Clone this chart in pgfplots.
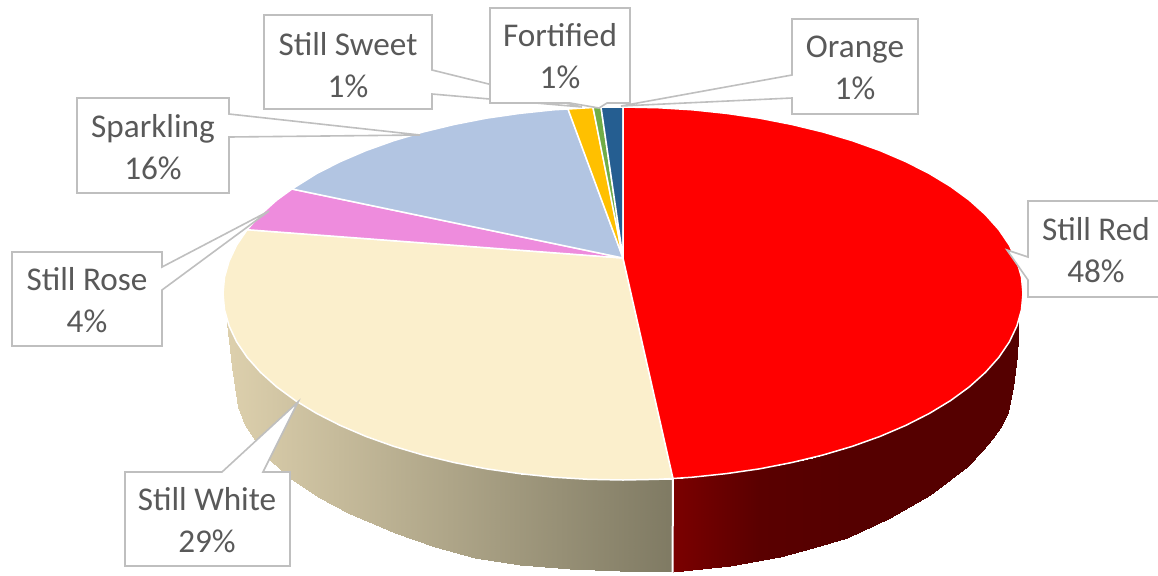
\documentclass[border=0pt]{standalone}
\usepackage{fontspec}
\setmainfont{Carlito}
\usepackage{pgfplots}
\pgfplotsset{compat=1.18}
\definecolor{lbl}{HTML}{595959}
\definecolor{lnc}{HTML}{BFBFBF}
\definecolor{cStillRed}{HTML}{FF0000}
\definecolor{cStillWhite}{HTML}{FBEFCC}
\definecolor{cRose}{HTML}{EE8CDD}
\definecolor{cSpark}{HTML}{B2C5E2}
\definecolor{cSweet}{HTML}{FFC000}
\definecolor{cFort}{HTML}{70AD47}
\definecolor{cOrange}{HTML}{255E91}
\pgfplotsset{
  colormap={sidewhite}{rgb255=(221,208,173) rgb255=(127,122,99)},
  colormap={sidered}{rgb255=(123,0,0) rgb255=(90,0,0) rgb255=(85,0,0) rgb255=(85,0,0) rgb255=(85,0,0)},
  slice/.style={draw=white,line width=0.75pt,line join=round},
  box/.style={fill=white,draw=lnc,line width=0.8pt,line join=miter},
}
\begin{document}
\begin{tikzpicture}
\begin{axis}[
  at={(0pt,0pt)},anchor=south west,
  scale only axis, width=579pt, height=287.5pt,
  xmin=0,xmax=1158,ymin=0,ymax=575,y dir=reverse,
  hide axis, no marks, point meta min=0, point meta max=1,
  nodes={font=\fontsize{16.6}{21}\selectfont,text=lbl,align=center,inner sep=0pt},
]
% sides
\addplot[surf,shader=interp,colormap name=sidered,mesh/rows=15,mesh/cols=2,point meta=explicit]
 table[x=x,y=y,meta=m]{
x y m
673 478.5 0
673 572 0
730 473.2 0.165
730 566 0.165
780 465 0.31
780 557 0.31
813 457.6 0.405
813 548 0.405
847 448 0.50
847 538 0.50
890 432.4 0.62
890 518 0.62
930 413 0.74
930 495 0.74
967 388.7 0.85
967 467 0.85
982 374 0.89
982 451 0.89
993 364.4 0.92
993 438 0.92
1002 352 0.95
1002 425 0.95
1008 344 0.96
1008 412 0.96
1013 335 0.98
1013 387 0.98
1017 325.7 0.99
1017 355 0.99
1019 320 1
1019 321 1
};
\addplot[surf,shader=interp,colormap name=sidewhite,mesh/rows=16,mesh/cols=2,point meta=explicit]
 table[x=x,y=y,meta=m]{
x y m
227 320 0
227 323 0
232 332.9 0.011
232 367 0.011
238 344 0.025
238 407 0.025
245 355 0.04
245 425 0.04
255 366.6 0.063
255 440 0.063
270 381.2 0.096
270 460 0.096
290 396.8 0.141
290 478 0.141
318 414 0.204
318 497 0.204
348 429 0.271
348 513 0.271
395 446.7 0.377
395 533 0.377
435 458 0.466
435 547 0.466
475 466.8 0.556
475 558 0.556
520 473.7 0.657
520 565 0.657
570 478.3 0.769
570 569 0.769
620 480 0.881
620 571 0.881
673 478.7 1
673 572 1
};
\addplot[draw=white,line width=1pt] coordinates {(673,478) (672.5,573)};
% top: slices
\addplot[slice,fill=cStillWhite] coordinates {
(623,258)(673,478.5)(657.9,479.3)(623,480)(588.1,479.3)(553.6,477.2)(519.5,473.6)(486.2,468.8)(454,462.5)(423,455)(393.6,446.3)(365.9,436.4)(340.2,425.4)(316.6,413.4)(295.3,400.5)(276.6,386.8)(260.5,372.3)(247.1,357.3)(236.6,341.8)(229.1,325.9)(224.5,309.8)(223,293.5)(224.5,277.2)(229.1,261.1)(236.6,245.2)(247.1,229.7)
} --cycle;
\addplot[slice,fill=cRose] coordinates {
(623,258)(247.1,229.7)(260.5,214.7)(276.6,200.2)(292,189)
} --cycle;
\addplot[slice,fill=cSpark] coordinates {
(623,258)(292,189)(316.6,173.6)(340.2,161.6)(365.9,150.6)(393.6,140.7)(423,132)(454,124.5)(486.2,118.2)(519.5,113.4)(553.6,109.8)(568,109)
} --cycle;
\addplot[slice,fill=cSweet] coordinates {(623,258)(568,109)(593,107.5)} --cycle;
\addplot[slice,fill=cFort] coordinates {(623,258)(593,107.5)(601,107)} --cycle;
\addplot[slice,fill=cOrange] coordinates {(623,258)(601,107)(623,107)} --cycle;
\addplot[slice,fill=cStillRed] coordinates {
(623,258)(623,107)(657.9,107.7)(692.4,109.8)(726.5,113.4)(759.8,118.2)(792,124.5)(823,132)(852.4,140.7)(880.1,150.6)(905.8,161.6)(929.4,173.6)(950.7,186.5)(969.4,200.2)(985.5,214.7)(998.9,229.7)(1009.4,245.2)(1016.9,261.1)(1021.5,277.2)(1023,293.5)(1021.5,309.8)(1016.9,325.9)(1009.4,341.8)(998.9,357.3)(985.5,372.3)(969.4,386.8)(950.7,400.5)(929.4,413.4)(905.8,425.4)(880.1,436.4)(852.4,446.3)(823,455)(792,462.5)(759.8,468.8)(726.5,473.6)(692.4,477.2)(673,478.5)
} --cycle;
% callouts
\addplot[box] coordinates {(1028,201)(1165,201)(1165,297)(1028,297)(1028,280)(1007,250)(1028,257)} --cycle;
\addplot[box] coordinates {(125,472)(222,472)(298,402)(263,472)(290,472)(290,566)(125,566)} --cycle;
\addplot[box] coordinates {(12,252)(162,252)(162,267)(269,211)(162,290)(162,346)(12,346)} --cycle;
\addplot[box] coordinates {(77,98)(229,98)(229,114)(420,135)(229,137)(229,193)(77,193)} --cycle;
\addplot[box] coordinates {(264,15)(432,15)(432,70)(582,107)(432,94)(432,109)(264,109)} --cycle;
\addplot[box] coordinates {(490,8)(630,8)(630,103)(607,103)(599,108)(570,103)(490,103)} --cycle;
\addplot[box] coordinates {(792,19)(918,19)(918,114)(792,114)(792,98)(621,106)(792,75)} --cycle;
\node at (axis cs:1096,250) {Still Red\\48\%};
\node at (axis cs:207,520) {Still White\\29\%};
\node at (axis cs:87,300) {Still Rose\\4\%};
\node at (axis cs:153,147) {Sparkling\\16\%};
\node at (axis cs:348,65) {Still Sweet\\1\%};
\node at (axis cs:560,56) {Fortified\\1\%};
\node at (axis cs:855,68) {Orange\\1\%};
\end{axis}
\pgfresetboundingbox
\path[use as bounding box] (0pt,0pt) rectangle (579pt,287.5pt);
\end{tikzpicture}
\end{document}
